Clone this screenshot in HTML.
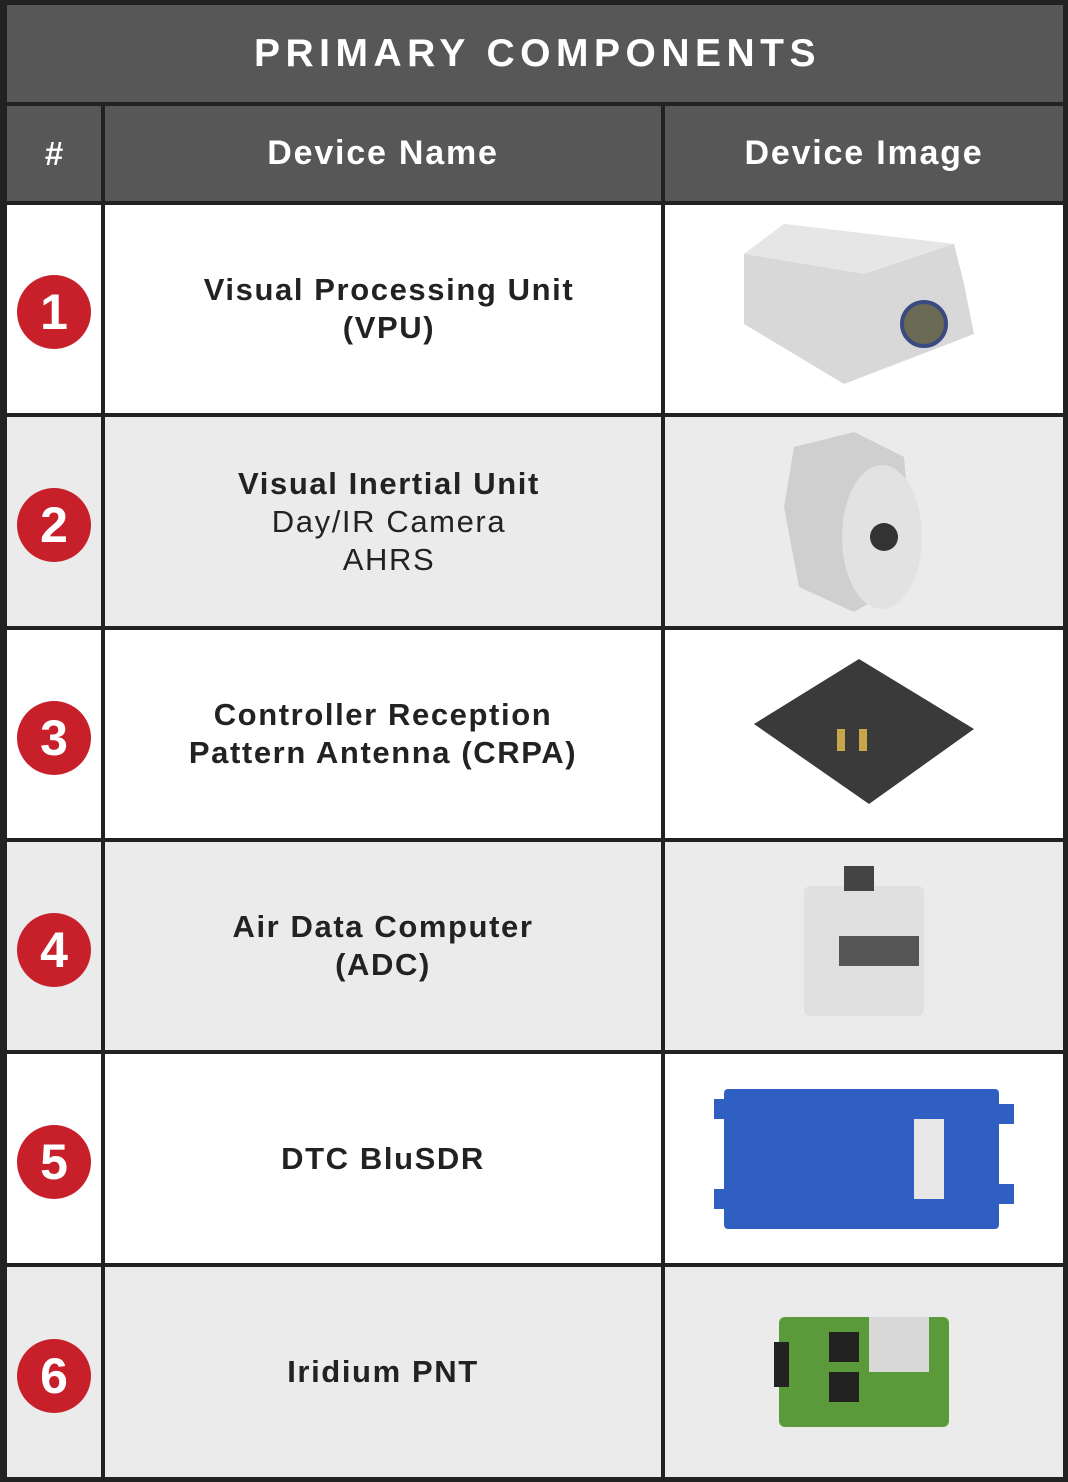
<!DOCTYPE html>
<html><head><style>
body{margin:0;width:1068px;height:1482px;background:#222;position:relative;overflow:hidden;font-family:"Liberation Sans",sans-serif}
.c{position:absolute;display:flex;align-items:center;justify-content:center;text-align:center}
.h{background:#575757;color:#fff;font-weight:bold}
.w{background:#fff}.g{background:#ebebeb}
.n{font-size:31px;color:#222;line-height:38px;letter-spacing:1.6px}
.b{font-weight:bold}
.r{position:absolute;left:17px;width:74px;height:74px;border-radius:50%;background:#c8202a;color:#fff;font-weight:bold;font-size:50px;display:flex;align-items:center;justify-content:center}
</style></head><body>
<div class="c h" style="left:7px;top:5px;width:1056px;height:97px;font-size:39px;letter-spacing:5.5px;padding-left:5px;box-sizing:border-box">PRIMARY COMPONENTS</div>
<div class="c h" style="left:7px;top:106px;width:94px;height:95px;font-size:33px">#</div>
<div class="c h" style="left:105px;top:106px;width:556px;height:95px;font-size:34px;letter-spacing:1.8px">Device Name</div>
<div class="c h" style="left:665px;top:106px;width:398px;height:95px;font-size:34px;letter-spacing:1.8px">Device Image</div>

<div class="c w" style="left:7px;top:205px;width:94px;height:208px"></div>
<div class="c w n b" style="left:105px;top:205px;width:556px;height:208px;padding-left:12px;box-sizing:border-box">Visual Processing Unit<br>(VPU)</div>
<div class="c w" style="left:665px;top:205px;width:398px;height:208px"><svg width="280" height="190"><polygon points="20,40 60,10 230,30 240,70 250,120 120,170 20,110" fill="#d8d8d8"/><polygon points="20,40 60,10 230,30 140,60" fill="#e6e6e6"/><circle cx="200" cy="110" r="22" fill="#6b6a55" stroke="#3b4a80" stroke-width="4"/></svg></div>

<div class="c g" style="left:7px;top:417px;width:94px;height:209px"></div>
<div class="c g n" style="left:105px;top:417px;width:556px;height:209px;padding-left:12px;box-sizing:border-box"><div><b>Visual Inertial Unit</b><br>Day/IR Camera<br>AHRS</div></div>
<div class="c g" style="left:665px;top:417px;width:398px;height:209px"><svg width="200" height="190"><polygon points="30,20 90,5 140,30 150,150 90,185 35,160 20,80" fill="#cfcfcf"/><ellipse cx="118" cy="110" rx="40" ry="72" fill="#e2e2e2"/><circle cx="120" cy="110" r="14" fill="#333"/></svg></div>

<div class="c w" style="left:7px;top:630px;width:94px;height:208px"></div>
<div class="c w n b" style="left:105px;top:630px;width:556px;height:208px">Controller Reception<br>Pattern Antenna (CRPA)</div>
<div class="c w" style="left:665px;top:630px;width:398px;height:208px"><svg width="230" height="160"><polygon points="5,70 110,5 225,75 120,150" fill="#3a3a3a"/><rect x="88" y="75" width="8" height="22" fill="#c9a64a"/><rect x="110" y="75" width="8" height="22" fill="#c9a64a"/></svg></div>

<div class="c g" style="left:7px;top:842px;width:94px;height:208px"></div>
<div class="c g n b" style="left:105px;top:842px;width:556px;height:208px">Air Data Computer<br>(ADC)</div>
<div class="c g" style="left:665px;top:842px;width:398px;height:208px"><svg width="150" height="170"><rect x="15" y="25" width="120" height="130" rx="6" fill="#e0e0e0"/><rect x="55" y="5" width="30" height="25" fill="#444"/><rect x="50" y="75" width="80" height="30" fill="#555"/></svg></div>

<div class="c w" style="left:7px;top:1054px;width:94px;height:209px"></div>
<div class="c w n b" style="left:105px;top:1054px;width:556px;height:209px">DTC BluSDR</div>
<div class="c w" style="left:665px;top:1054px;width:398px;height:209px"><svg width="310" height="160"><rect x="15" y="10" width="275" height="140" rx="4" fill="#2f5fc0"/><rect x="5" y="20" width="15" height="20" fill="#2f5fc0"/><rect x="5" y="110" width="15" height="20" fill="#2f5fc0"/><rect x="290" y="25" width="15" height="20" fill="#2f5fc0"/><rect x="290" y="105" width="15" height="20" fill="#2f5fc0"/><rect x="205" y="40" width="30" height="80" fill="#e8e8e8"/></svg></div>

<div class="c g" style="left:7px;top:1267px;width:94px;height:210px"></div>
<div class="c g n b" style="left:105px;top:1267px;width:556px;height:210px">Iridium PNT</div>
<div class="c g" style="left:665px;top:1267px;width:398px;height:210px"><svg width="180" height="120"><rect x="5" y="5" width="170" height="110" rx="6" fill="#5b9a3a"/><rect x="95" y="5" width="60" height="55" fill="#d8d8d8"/><rect x="55" y="20" width="30" height="30" fill="#222"/><rect x="55" y="60" width="30" height="30" fill="#222"/><rect x="0" y="30" width="15" height="45" fill="#222"/></svg></div>

<div class="r" style="top:275px">1</div>
<div class="r" style="top:488px">2</div>
<div class="r" style="top:701px">3</div>
<div class="r" style="top:913px">4</div>
<div class="r" style="top:1125px">5</div>
<div class="r" style="top:1339px">6</div>
</body></html>
